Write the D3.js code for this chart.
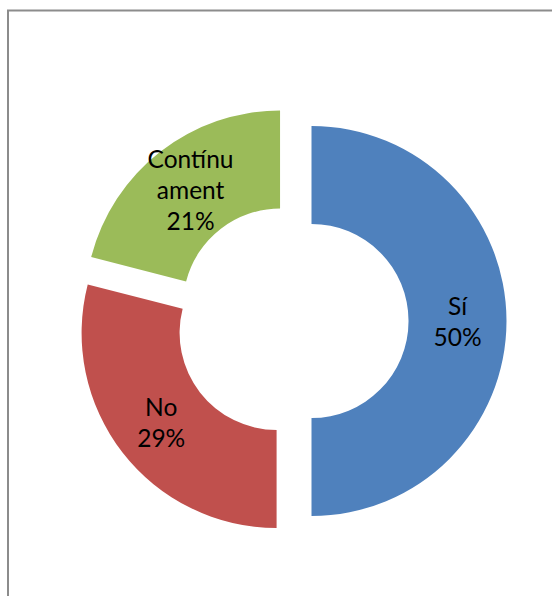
<!DOCTYPE html>
<html>
<head>
<meta charset="utf-8">
<script src="https://cdn.jsdelivr.net/npm/d3@7"></script>
<style>
  html, body { margin: 0; padding: 0; background: #ffffff; }
  svg { display: block; }
</style>
</head>
<body>
<svg id="chart" width="552" height="596"></svg>
<script>
const categories = ["Sí", "No", "Contínuament"];
const values = [50, 29, 21];
const labelLines = [["Sí"], ["No"], ["Contínu", "ament"]];
const colors = ["#4F81BD", "#C0504D", "#9BBB59"];

const svg = d3.select("#chart");

// chart-area frame (extends past the window on right/bottom)
svg.append("rect")
  .attr("x", 8).attr("y", 10.5)
  .attr("width", 700).attr("height", 700)
  .attr("fill", "none")
  .attr("stroke", "#8c8c8c")
  .attr("stroke-width", 2);

const cx = 292, cy = 321;
const outerR = 195, innerR = 97, explode = 19.5;

const pie = d3.pie().sort(null).value(d => d.value);
const arcs = pie(categories.map((c, i) => ({ name: c, value: values[i], lines: labelLines[i], color: colors[i] })));
const arc = d3.arc().innerRadius(innerR).outerRadius(outerR);
const total = d3.sum(values);

const g = svg.append("g").attr("transform", `translate(${cx},${cy})`);

const slices = g.selectAll("g.slice").data(arcs).join("g")
  .attr("class", "slice")
  .attr("transform", d => {
    const a = (d.startAngle + d.endAngle) / 2;
    return `translate(${explode * Math.sin(a)},${-explode * Math.cos(a)})`;
  });

slices.append("path")
  .attr("d", arc)
  .attr("fill", d => d.data.color);

const lineH = 31;
slices.each(function(d) {
  const [x, y] = arc.centroid(d);
  const lines = d.data.lines.concat([Math.round(d.data.value / total * 100) + "%"]);
  const t = d3.select(this).append("text")
    .attr("text-anchor", "middle")
    .attr("font-family", "Lato, 'Open Sans', sans-serif")
    .attr("font-size", 24.5)
    .attr("fill", "#000");
  const n = lines.length;
  lines.forEach((s, i) => {
    t.append("tspan")
      .attr("x", x)
      .attr("y", y + (i - (n - 1) / 2) * lineH + 9)
      .text(s);
  });
});
</script>
</body>
</html>
